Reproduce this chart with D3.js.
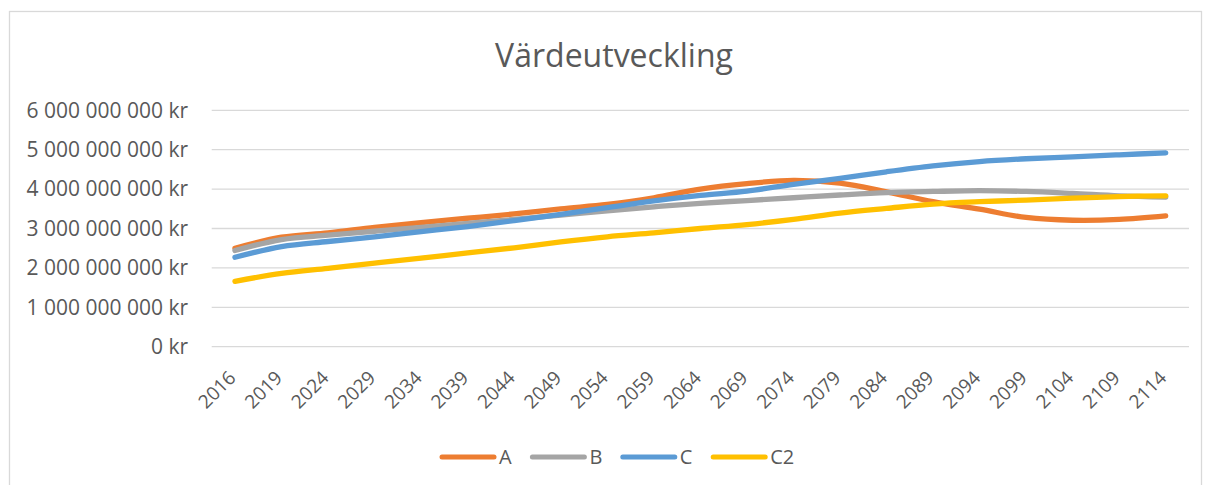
<!DOCTYPE html>
<html>
<head>
<meta charset="utf-8">
<script src="https://cdn.jsdelivr.net/npm/d3@7"></script>
<style>
  body { margin: 0; background: #fff; }
  svg text { font-family: "Open Sans", sans-serif; fill: #595959; }
</style>
</head>
<body>
<script>
// years on the category axis
const years = ["2016","2019","2024","2029","2034","2039","2044","2049","2054","2059","2064",
  "2069","2074","2079","2084","2089","2094","2099","2104","2109","2114"];
// values in billions of kr
const seriesA = [2.50,2.78,2.89,3.03,3.15,3.26,3.37,3.50,3.61,3.78,4.00,4.14,4.22,4.15,3.93,3.68,3.49,3.28,3.21,3.23,3.32];
const seriesB = [2.44,2.72,2.83,2.93,3.03,3.13,3.23,3.34,3.45,3.55,3.64,3.71,3.78,3.85,3.91,3.94,3.96,3.94,3.89,3.83,3.80];
const seriesC = [2.27,2.54,2.67,2.79,2.92,3.05,3.20,3.36,3.53,3.70,3.84,3.95,4.12,4.27,4.44,4.59,4.70,4.77,4.82,4.87,4.92];
const seriesC2 = [1.66,1.86,1.99,2.12,2.25,2.38,2.51,2.66,2.79,2.89,3.00,3.10,3.23,3.39,3.51,3.62,3.68,3.72,3.77,3.81,3.83];
const seriesNames = ["A","B","C","C2"];
const colors = ["#ED7D31","#A5A5A5","#5B9BD5","#FFC000"];
const yTicks = [0,1e9,2e9,3e9,4e9,5e9,6e9];

const w = 1205, h = 485;
const svg = d3.select("body").append("svg").attr("width", w).attr("height", h);

// chart border
svg.append("rect").attr("x", 9.5).attr("y", 11.5).attr("width", 1192).attr("height", 480)
  .attr("fill", "none").attr("stroke", "#D9D9D9").attr("stroke-width", 1.3);

svg.append("text").attr("x", 614).attr("y", 67).attr("text-anchor", "middle")
  .style("font-size", "32px").text("Värdeutveckling");

const xScale = d3.scaleBand().domain(years).range([211.7, 1189]);
const yScale = d3.scaleLinear().domain([0, 6e9]).range([346.7, 110.3]);
const xPos = y => xScale(y) + xScale.bandwidth() / 2;

// gridlines
svg.append("g").selectAll("line").data(yTicks).enter().append("line")
  .attr("x1", 211.7).attr("x2", 1189)
  .attr("y1", d => yScale(d)).attr("y2", d => yScale(d))
  .attr("stroke", "#D9D9D9").attr("stroke-width", 1.3);

const fmtKr = d => d3.format(",")(d).replace(/,/g, " ") + " kr";
const yAxis = d3.axisLeft(yScale).tickValues(yTicks).tickFormat(fmtKr).tickSize(0).tickPadding(0);
const gy = svg.append("g").attr("transform", "translate(188,0)").call(yAxis);
gy.select(".domain").remove();
gy.selectAll("text").style("font-size", "21px").attr("fill", "#595959")
  .style("font-family", "'Open Sans', sans-serif");

// rotated year labels
svg.append("g").selectAll("text").data(years).enter().append("text")
  .attr("text-anchor", "end")
  .attr("transform", d => "translate(" + (xPos(d) + 2) + ",379) rotate(-45)")
  .style("font-size", "19px").text(d => d);

const allSeries = [seriesA, seriesB, seriesC, seriesC2];
const line = d3.line()
  .x((d, i) => xPos(years[i]))
  .y(d => yScale(d * 1e9))
  .curve(d3.curveCatmullRom.alpha(0.5));

svg.append("g").selectAll("path").data(allSeries).enter().append("path")
  .attr("d", d => line(d)).attr("fill", "none")
  .attr("stroke", (d, i) => colors[i]).attr("stroke-width", 5.3)
  .attr("stroke-linecap", "round").attr("stroke-linejoin", "round");

// legend
const legend = svg.append("g").selectAll("g").data(seriesNames).enter().append("g")
  .attr("transform", (d, i) => "translate(" + (440 + i * 90.4) + ",457)");
legend.append("line").attr("x1", 2).attr("x2", 54).attr("y1", 0).attr("y2", 0)
  .attr("stroke", (d, i) => colors[i]).attr("stroke-width", 5).attr("stroke-linecap", "round");
legend.append("text").attr("x", 59).attr("y", 7).style("font-size", "20px").text(d => d);
</script>
</body>
</html>
